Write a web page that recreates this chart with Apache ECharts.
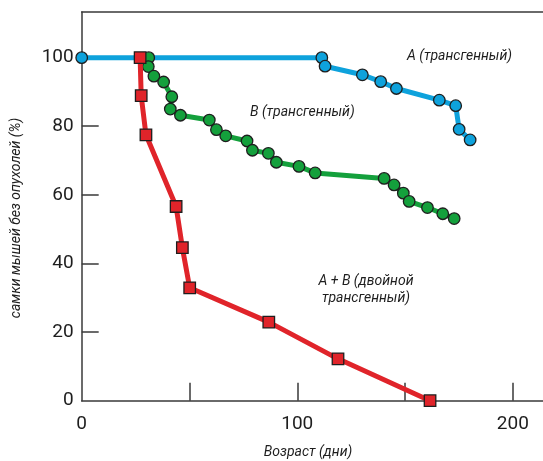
<!DOCTYPE html>
<html>
<head>
<meta charset="utf-8">
<script src="https://cdn.jsdelivr.net/npm/echarts@6/dist/echarts.min.js"></script>
<style>
  html, body { margin: 0; padding: 0; background: #ffffff; }
  #chart { width: 543px; height: 461px; }
</style>
</head>
<body>
<div id="chart"></div>
<script>
// Tumour-free survival of female mice by age (days)
var ageA = [0, 111.4, 112.9, 130.2, 138.7, 146.0, 165.9, 173.5, 175.1, 180.2];
var freeA = [100, 100, 97.5, 95.0, 93.0, 91.0, 87.6, 86.0, 79.1, 76.0];

var ageB = [31.1, 30.9, 33.5, 38.0, 41.8, 41.1, 45.8, 59.2, 62.5, 66.8, 76.7, 79.2, 86.6, 90.3, 100.8, 108.3, 140.3, 144.9, 149.2, 151.9, 160.4, 167.5, 172.8];
var freeB = [100, 97.4, 94.6, 92.9, 88.6, 85.0, 83.2, 81.8, 79.0, 77.2, 75.7, 73.0, 72.1, 69.5, 68.3, 66.4, 64.8, 62.9, 60.5, 58.1, 56.3, 54.5, 53.1];

var ageAB = [27.1, 27.6, 29.8, 43.8, 46.7, 50.1, 86.8, 118.9, 161.6];
var freeAB = [100, 88.9, 77.5, 56.6, 44.6, 32.9, 22.9, 12.2, 0];

var xTickValues = [50, 100, 150, 200];
var xLabelValues = [0, 100, 200];
var yTickValues = [20, 40, 60, 80, 100];
var yLabelValues = [0, 20, 40, 60, 80, 100];

var xTitle = 'Возраст (дни)';
var yTitle = 'самки мышей без опухолей (%)';
var labelA = 'A (трансгенный)';
var labelB = 'B (трансгенный)';
var labelAB = 'A + B (двойной\nтрансгенный)';

function pairs(xs, ys) {
  return xs.map(function (x, i) { return [x, ys[i]]; });
}

var axisColor = '#3a3a3a';
var textColor = '#1e1e1e';
var edgeColor = '#1e1e1e';
var fontFamily = 'Roboto, "Liberation Sans", Arial, sans-serif';

var chart = echarts.init(document.getElementById('chart'), null, { renderer: 'canvas' });

chart.setOption({
  animation: false,
  backgroundColor: '#ffffff',
  grid: { left: 81.7, right: 0, top: 12, bottom: 60.3, containLabel: false },
  xAxis: [{
    type: 'value',
    min: 0, max: 214,
    position: 'bottom',
    axisLine: { show: true, onZero: false, lineStyle: { color: axisColor, width: 1.5 } },
    axisTick: { show: true, inside: true, length: 18, customValues: xTickValues, lineStyle: { color: axisColor, width: 1.5 } },
    axisLabel: { show: true, customValues: xLabelValues, margin: 14, color: textColor, fontSize: 19, fontFamily: fontFamily },
    splitLine: { show: false }
  }, {
    type: 'value',
    min: 0, max: 214,
    position: 'top',
    axisLine: { show: true, onZero: false, lineStyle: { color: axisColor, width: 1.5 } },
    axisTick: { show: false },
    axisLabel: { show: false },
    splitLine: { show: false }
  }],
  yAxis: {
    type: 'value',
    min: 0, max: 113.3,
    axisLine: { show: true, onZero: false, lineStyle: { color: axisColor, width: 1.5 } },
    axisTick: { show: true, inside: true, length: 17, customValues: yTickValues, lineStyle: { color: axisColor, width: 1.5 } },
    axisLabel: { show: true, customValues: yLabelValues, margin: 8, color: textColor, fontSize: 19, fontFamily: fontFamily },
    splitLine: { show: false }
  },
  series: [{
    name: labelA,
    type: 'line',
    data: pairs(ageA, freeA),
    symbol: 'circle', symbolSize: 11.5,
    lineStyle: { color: '#0ea2dc', width: 5 },
    itemStyle: { color: '#0ea2dc', borderColor: edgeColor, borderWidth: 1.3 },
    z: 2
  }, {
    name: labelB,
    type: 'line',
    data: pairs(ageB, freeB),
    symbol: 'circle', symbolSize: 11.5,
    lineStyle: { color: '#14a03c', width: 5 },
    itemStyle: { color: '#14a03c', borderColor: edgeColor, borderWidth: 1.3 },
    z: 3
  }, {
    name: labelAB,
    type: 'line',
    data: pairs(ageAB, freeAB),
    symbol: 'rect', symbolSize: 11.5,
    lineStyle: { color: '#e0242a', width: 5 },
    itemStyle: { color: '#e0242a', borderColor: edgeColor, borderWidth: 1.3 },
    z: 4
  }],
  graphic: [{
    type: 'text', x: 407, y: 56,
    style: { text: labelA, fill: textColor, font: 'italic 14px ' + fontFamily, textAlign: 'left', textVerticalAlign: 'middle' }
  }, {
    type: 'text', x: 250, y: 112,
    style: { text: labelB, fill: textColor, font: 'italic 14px ' + fontFamily, textAlign: 'left', textVerticalAlign: 'middle' }
  }, {
    type: 'text', x: 366, y: 290,
    style: { text: labelAB, fill: textColor, font: 'italic 14px ' + fontFamily, textAlign: 'center', textVerticalAlign: 'middle', lineHeight: 17 }
  }, {
    type: 'text', x: 308, y: 452,
    style: { text: xTitle, fill: textColor, font: 'italic 14px ' + fontFamily, textAlign: 'center', textVerticalAlign: 'middle' }
  }, {
    type: 'text', x: 16, y: 218, rotation: Math.PI / 2,
    style: { text: yTitle, fill: textColor, font: 'italic 14px ' + fontFamily, textAlign: 'center', textVerticalAlign: 'middle' }
  }]
});
</script>
</body>
</html>
